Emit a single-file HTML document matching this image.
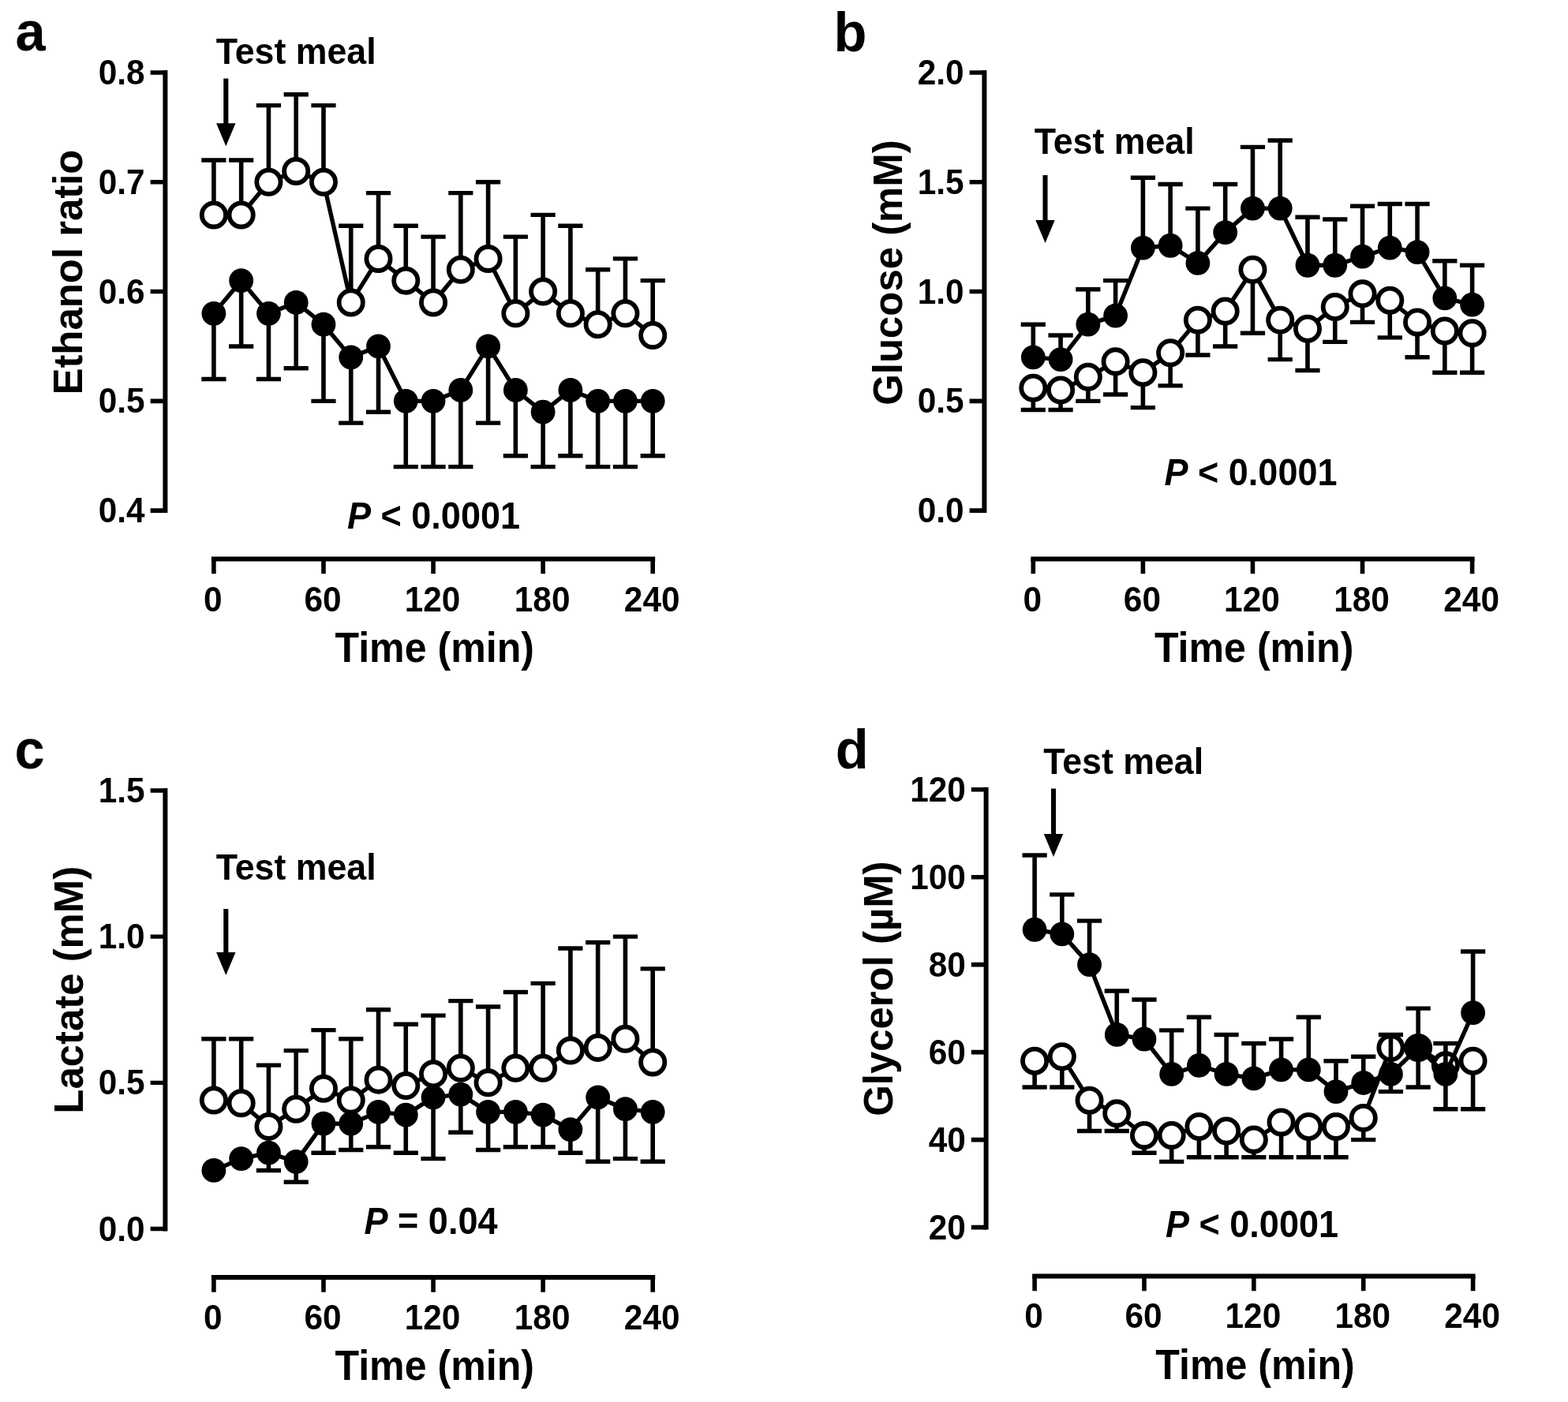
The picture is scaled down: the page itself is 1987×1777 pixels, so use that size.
<!DOCTYPE html>
<html lang="en">
<head>
<meta charset="utf-8">
<title>Figure</title>
<style>
html,body{margin:0;padding:0;background:#fff}
body{width:1987px;height:1777px;overflow:hidden}
svg{display:block;font-family:'Liberation Sans', sans-serif}
</style>
</head>
<body>
<svg width="1987" height="1777" viewBox="0 0 1987 1777">
<rect width="1987" height="1777" fill="#fff"/>
<g id="panel-a">
<g fill="none" stroke="#000"><path d="M209.4 89V650.1" stroke-width="6.0"/><path d="M190.6 92H209.4M190.6 230.78H209.4M190.6 369.55H209.4M190.6 508.33H209.4M190.6 647.1H209.4" stroke-width="5.6"/><path d="M267.9 708.5H830.2" stroke-width="6.0"/><path d="M270.9 708.5V727.3M409.98 708.5V727.3M549.05 708.5V727.3M688.12 708.5V727.3M827.2 708.5V727.3" stroke-width="5.6"/></g>
<g fill="none" stroke="#000"><polyline points="270.9,272.41 305.67,272.41 340.44,230.78 375.21,216.9 409.98,230.78 444.74,383.43 479.51,327.92 514.28,355.67 549.05,383.43 583.82,341.8 618.59,327.92 653.36,397.31 688.12,369.55 722.89,397.31 757.66,411.18 792.43,397.31 827.2,425.06" stroke-width="5.4" stroke-linejoin="round"/><path d="M270.9 272.41V203.02M305.67 272.41V203.02M340.44 230.78V133.63M375.21 216.9V119.76M409.98 230.78V133.63M444.74 383.43V286.29M479.51 327.92V244.65M514.28 355.67V286.29M549.05 383.43V300.16M583.82 341.8V244.65M618.59 327.92V230.78M653.36 397.31V300.16M688.12 369.55V272.41M722.89 397.31V286.29M757.66 411.18V341.8M792.43 397.31V327.92M827.2 425.06V355.67" stroke-width="5.6"/><path d="M255.3 203.02h31.2M290.07 203.02h31.2M324.84 133.63h31.2M359.61 119.76h31.2M394.38 133.63h31.2M429.14 286.29h31.2M463.91 244.65h31.2M498.68 286.29h31.2M533.45 300.16h31.2M568.22 244.65h31.2M602.99 230.78h31.2M637.76 300.16h31.2M672.52 272.41h31.2M707.29 286.29h31.2M742.06 341.8h31.2M776.83 327.92h31.2M811.6 355.67h31.2" stroke-width="5.4"/></g>
<g fill="#fff" stroke="#000" stroke-width="5.8"><circle cx="270.9" cy="272.41" r="15.1"/><circle cx="305.67" cy="272.41" r="15.1"/><circle cx="340.44" cy="230.78" r="15.1"/><circle cx="375.21" cy="216.9" r="15.1"/><circle cx="409.98" cy="230.78" r="15.1"/><circle cx="444.74" cy="383.43" r="15.1"/><circle cx="479.51" cy="327.92" r="15.1"/><circle cx="514.28" cy="355.67" r="15.1"/><circle cx="549.05" cy="383.43" r="15.1"/><circle cx="583.82" cy="341.8" r="15.1"/><circle cx="618.59" cy="327.92" r="15.1"/><circle cx="653.36" cy="397.31" r="15.1"/><circle cx="688.12" cy="369.55" r="15.1"/><circle cx="722.89" cy="397.31" r="15.1"/><circle cx="757.66" cy="411.18" r="15.1"/><circle cx="792.43" cy="397.31" r="15.1"/><circle cx="827.2" cy="425.06" r="15.1"/></g>
<g fill="none" stroke="#000"><polyline points="270.9,397.31 305.67,355.67 340.44,397.31 375.21,383.43 409.98,411.18 444.74,452.82 479.51,438.94 514.28,508.33 549.05,508.33 583.82,494.45 618.59,438.94 653.36,494.45 688.12,522.2 722.89,494.45 757.66,508.33 792.43,508.33 827.2,508.33" stroke-width="5.4" stroke-linejoin="round"/><path d="M270.9 397.31V480.57M305.67 355.67V438.94M340.44 397.31V480.57M375.21 383.43V466.69M409.98 411.18V508.33M444.74 452.82V536.08M479.51 438.94V522.2M514.28 508.33V591.59M549.05 508.33V591.59M583.82 494.45V591.59M618.59 438.94V536.08M653.36 494.45V577.71M688.12 522.2V591.59M722.89 494.45V577.71M757.66 508.33V591.59M792.43 508.33V591.59M827.2 508.33V577.71" stroke-width="5.6"/><path d="M255.3 480.57h31.2M290.07 438.94h31.2M324.84 480.57h31.2M359.61 466.69h31.2M394.38 508.33h31.2M429.14 536.08h31.2M463.91 522.2h31.2M498.68 591.59h31.2M533.45 591.59h31.2M568.22 591.59h31.2M602.99 536.08h31.2M637.76 577.71h31.2M672.52 591.59h31.2M707.29 577.71h31.2M742.06 591.59h31.2M776.83 591.59h31.2M811.6 577.71h31.2" stroke-width="5.4"/></g>
<g fill="#000"><circle cx="270.9" cy="397.31" r="15.4"/><circle cx="305.67" cy="355.67" r="15.4"/><circle cx="340.44" cy="397.31" r="15.4"/><circle cx="375.21" cy="383.43" r="15.4"/><circle cx="409.98" cy="411.18" r="15.4"/><circle cx="444.74" cy="452.82" r="15.4"/><circle cx="479.51" cy="438.94" r="15.4"/><circle cx="514.28" cy="508.33" r="15.4"/><circle cx="549.05" cy="508.33" r="15.4"/><circle cx="583.82" cy="494.45" r="15.4"/><circle cx="618.59" cy="438.94" r="15.4"/><circle cx="653.36" cy="494.45" r="15.4"/><circle cx="688.12" cy="522.2" r="15.4"/><circle cx="722.89" cy="494.45" r="15.4"/><circle cx="757.66" cy="508.33" r="15.4"/><circle cx="792.43" cy="508.33" r="15.4"/><circle cx="827.2" cy="508.33" r="15.4"/></g>
<path d="M286.3 99.5V160.2" stroke="#000" stroke-width="6.1" fill="none"/><path d="M274.1 156.2H298.5L286.3 185.2Z" fill="#000"/>
<g fill="#000" font-weight="bold"><text transform="translate(183.6 107.1) scale(0.967 1)" text-anchor="end" font-size="43.8">0.8</text><text transform="translate(183.6 245.88) scale(0.967 1)" text-anchor="end" font-size="43.8">0.7</text><text transform="translate(183.6 384.65) scale(0.967 1)" text-anchor="end" font-size="43.8">0.6</text><text transform="translate(183.6 523.43) scale(0.967 1)" text-anchor="end" font-size="43.8">0.5</text><text transform="translate(183.6 662.2) scale(0.967 1)" text-anchor="end" font-size="43.8">0.4</text><text transform="translate(269.9 774.5) scale(0.967 1)" text-anchor="middle" font-size="43.8">0</text><text transform="translate(408.98 774.5) scale(0.967 1)" text-anchor="middle" font-size="43.8">60</text><text transform="translate(548.05 774.5) scale(0.967 1)" text-anchor="middle" font-size="43.8">120</text><text transform="translate(687.12 774.5) scale(0.967 1)" text-anchor="middle" font-size="43.8">180</text><text transform="translate(826.2 774.5) scale(0.967 1)" text-anchor="middle" font-size="43.8">240</text><text transform="translate(550.75 838.9) scale(0.946 1)" text-anchor="middle" font-size="53">Time (min)</text><text transform="translate(104 345.05) rotate(-90) scale(0.979 1)" text-anchor="middle" font-size="52">Ethanol ratio</text><text transform="translate(19.5 63.5) scale(0.98 1)" font-size="70">a</text><text transform="translate(273.8 80.6) scale(0.982 1)" font-size="45.5">Test meal</text><text transform="translate(549.5 670.1) scale(0.946 1)" text-anchor="middle" font-size="47.6"><tspan font-style="italic">P</tspan> &lt; 0.0001</text></g>
</g>
<g id="panel-b">
<g fill="none" stroke="#000"><path d="M1247.4 89V650.1" stroke-width="6.0"/><path d="M1228.6 92H1247.4M1228.6 230.78H1247.4M1228.6 369.55H1247.4M1228.6 508.33H1247.4M1228.6 647.1H1247.4" stroke-width="5.6"/><path d="M1306.3 708.5H1868.6" stroke-width="6.0"/><path d="M1309.3 708.5V727.3M1448.38 708.5V727.3M1587.45 708.5V727.3M1726.52 708.5V727.3M1865.6 708.5V727.3" stroke-width="5.6"/></g>
<g fill="none" stroke="#000"><polyline points="1309.3,491.67 1344.07,494.45 1378.84,477.79 1413.61,458.37 1448.38,472.24 1483.14,447.26 1517.91,405.63 1552.68,394.53 1587.45,341.79 1622.22,405.63 1656.99,416.73 1691.76,388.98 1726.52,372.33 1761.29,380.65 1796.06,408.41 1830.83,419.51 1865.6,422.28" stroke-width="5.4" stroke-linejoin="round"/><path d="M1309.3 491.67V519.43M1344.07 494.45V519.43M1378.84 477.79V508.33M1413.61 458.37V500M1448.38 472.24V516.65M1483.14 447.26V488.9M1517.91 405.63V450.04M1552.68 394.53V438.94M1587.45 341.79V422.28M1622.22 405.63V455.59M1656.99 416.73V469.47M1691.76 388.98V433.39M1726.52 372.33V408.41M1761.29 380.65V427.84M1796.06 408.41V452.82M1830.83 419.51V472.24M1865.6 422.28V472.24" stroke-width="5.6"/><path d="M1293.7 519.43h31.2M1328.47 519.43h31.2M1363.24 508.33h31.2M1398.01 500h31.2M1432.78 516.65h31.2M1467.54 488.9h31.2M1502.31 450.04h31.2M1537.08 438.94h31.2M1571.85 422.28h31.2M1606.62 455.59h31.2M1641.39 469.47h31.2M1676.16 433.39h31.2M1710.92 408.41h31.2M1745.69 427.84h31.2M1780.46 452.82h31.2M1815.23 472.24h31.2M1850 472.24h31.2" stroke-width="5.4"/></g>
<g fill="#fff" stroke="#000" stroke-width="5.8"><circle cx="1309.3" cy="491.67" r="15.1"/><circle cx="1344.07" cy="494.45" r="15.1"/><circle cx="1378.84" cy="477.79" r="15.1"/><circle cx="1413.61" cy="458.37" r="15.1"/><circle cx="1448.38" cy="472.24" r="15.1"/><circle cx="1483.14" cy="447.26" r="15.1"/><circle cx="1517.91" cy="405.63" r="15.1"/><circle cx="1552.68" cy="394.53" r="15.1"/><circle cx="1587.45" cy="341.79" r="15.1"/><circle cx="1622.22" cy="405.63" r="15.1"/><circle cx="1656.99" cy="416.73" r="15.1"/><circle cx="1691.76" cy="388.98" r="15.1"/><circle cx="1726.52" cy="372.33" r="15.1"/><circle cx="1761.29" cy="380.65" r="15.1"/><circle cx="1796.06" cy="408.41" r="15.1"/><circle cx="1830.83" cy="419.51" r="15.1"/><circle cx="1865.6" cy="422.28" r="15.1"/></g>
<g fill="none" stroke="#000"><polyline points="1309.3,452.82 1344.07,455.59 1378.84,411.18 1413.61,400.08 1448.38,314.04 1483.14,311.26 1517.91,333.47 1552.68,294.61 1587.45,264.08 1622.22,264.08 1656.99,336.24 1691.76,336.24 1726.52,325.14 1761.29,314.04 1796.06,319.59 1830.83,377.88 1865.6,386.2" stroke-width="5.4" stroke-linejoin="round"/><path d="M1309.3 452.82V411.18M1344.07 455.59V425.06M1378.84 411.18V366.77M1413.61 400.08V355.67M1448.38 314.04V225.22M1483.14 311.26V233.55M1517.91 333.47V264.08M1552.68 294.61V233.55M1587.45 264.08V186.37M1622.22 264.08V178.04M1656.99 336.24V275.18M1691.76 336.24V277.96M1726.52 325.14V261.31M1761.29 314.04V258.53M1796.06 319.59V258.53M1830.83 377.88V330.69M1865.6 386.2V336.24" stroke-width="5.6"/><path d="M1293.7 411.18h31.2M1328.47 425.06h31.2M1363.24 366.77h31.2M1398.01 355.67h31.2M1432.78 225.22h31.2M1467.54 233.55h31.2M1502.31 264.08h31.2M1537.08 233.55h31.2M1571.85 186.37h31.2M1606.62 178.04h31.2M1641.39 275.18h31.2M1676.16 277.96h31.2M1710.92 261.31h31.2M1745.69 258.53h31.2M1780.46 258.53h31.2M1815.23 330.69h31.2M1850 336.24h31.2" stroke-width="5.4"/></g>
<g fill="#000"><circle cx="1309.3" cy="452.82" r="15.4"/><circle cx="1344.07" cy="455.59" r="15.4"/><circle cx="1378.84" cy="411.18" r="15.4"/><circle cx="1413.61" cy="400.08" r="15.4"/><circle cx="1448.38" cy="314.04" r="15.4"/><circle cx="1483.14" cy="311.26" r="15.4"/><circle cx="1517.91" cy="333.47" r="15.4"/><circle cx="1552.68" cy="294.61" r="15.4"/><circle cx="1587.45" cy="264.08" r="15.4"/><circle cx="1622.22" cy="264.08" r="15.4"/><circle cx="1656.99" cy="336.24" r="15.4"/><circle cx="1691.76" cy="336.24" r="15.4"/><circle cx="1726.52" cy="325.14" r="15.4"/><circle cx="1761.29" cy="314.04" r="15.4"/><circle cx="1796.06" cy="319.59" r="15.4"/><circle cx="1830.83" cy="377.88" r="15.4"/><circle cx="1865.6" cy="386.2" r="15.4"/></g>
<path d="M1324.5 222V283" stroke="#000" stroke-width="6.1" fill="none"/><path d="M1312.3 279H1336.7L1324.5 308Z" fill="#000"/>
<g fill="#000" font-weight="bold"><text transform="translate(1221.6 107.1) scale(0.967 1)" text-anchor="end" font-size="43.8">2.0</text><text transform="translate(1221.6 245.88) scale(0.967 1)" text-anchor="end" font-size="43.8">1.5</text><text transform="translate(1221.6 384.65) scale(0.967 1)" text-anchor="end" font-size="43.8">1.0</text><text transform="translate(1221.6 523.43) scale(0.967 1)" text-anchor="end" font-size="43.8">0.5</text><text transform="translate(1221.6 662.2) scale(0.967 1)" text-anchor="end" font-size="43.8">0.0</text><text transform="translate(1308.3 774.5) scale(0.967 1)" text-anchor="middle" font-size="43.8">0</text><text transform="translate(1447.38 774.5) scale(0.967 1)" text-anchor="middle" font-size="43.8">60</text><text transform="translate(1586.45 774.5) scale(0.967 1)" text-anchor="middle" font-size="43.8">120</text><text transform="translate(1725.52 774.5) scale(0.967 1)" text-anchor="middle" font-size="43.8">180</text><text transform="translate(1864.6 774.5) scale(0.967 1)" text-anchor="middle" font-size="43.8">240</text><text transform="translate(1589.15 838.9) scale(0.946 1)" text-anchor="middle" font-size="53">Time (min)</text><text transform="translate(1143 345.55) rotate(-90) scale(0.979 1)" text-anchor="middle" font-size="52">Glucose (mM)</text><text transform="translate(1056.5 64.5) scale(0.98 1)" font-size="70">b</text><text transform="translate(1310.8 194.6) scale(0.982 1)" font-size="45.5">Test meal</text><text transform="translate(1585 615) scale(0.946 1)" text-anchor="middle" font-size="47.6"><tspan font-style="italic">P</tspan> &lt; 0.0001</text></g>
</g>
<g id="panel-c">
<g fill="none" stroke="#000"><path d="M209.4 999V1560.5" stroke-width="6.0"/><path d="M190.6 1002H209.4M190.6 1187.17H209.4M190.6 1372.33H209.4M190.6 1557.5H209.4" stroke-width="5.3"/><path d="M267.9 1619H830.2" stroke-width="6.0"/><path d="M270.9 1619V1637.8M409.98 1619V1637.8M549.05 1619V1637.8M688.12 1619V1637.8M827.2 1619V1637.8" stroke-width="5.6"/></g>
<g fill="none" stroke="#000"><polyline points="270.9,1394.55 305.67,1398.26 340.44,1427.88 375.21,1405.66 409.98,1379.74 444.74,1394.55 479.51,1368.63 514.28,1376.04 549.05,1361.22 583.82,1353.82 618.59,1372.33 653.36,1353.82 688.12,1353.82 722.89,1331.6 757.66,1327.89 792.43,1316.78 827.2,1346.41" stroke-width="5.4" stroke-linejoin="round"/><path d="M270.9 1394.55V1316.78M305.67 1398.26V1316.78M340.44 1427.88V1350.11M375.21 1405.66V1331.6M409.98 1379.74V1305.67M444.74 1394.55V1316.78M479.51 1368.63V1279.75M514.28 1376.04V1298.27M549.05 1361.22V1287.16M583.82 1353.82V1268.64M618.59 1372.33V1276.05M653.36 1353.82V1257.53M688.12 1353.82V1246.42M722.89 1331.6V1201.98M757.66 1327.89V1194.57M792.43 1316.78V1187.17M827.2 1346.41V1227.9" stroke-width="5.6"/><path d="M255.3 1316.78h31.2M290.07 1316.78h31.2M324.84 1350.11h31.2M359.61 1331.6h31.2M394.38 1305.67h31.2M429.14 1316.78h31.2M463.91 1279.75h31.2M498.68 1298.27h31.2M533.45 1287.16h31.2M568.22 1268.64h31.2M602.99 1276.05h31.2M637.76 1257.53h31.2M672.52 1246.42h31.2M707.29 1201.98h31.2M742.06 1194.57h31.2M776.83 1187.17h31.2M811.6 1227.9h31.2" stroke-width="5.4"/></g>
<g fill="#fff" stroke="#000" stroke-width="5.8"><circle cx="270.9" cy="1394.55" r="15.1"/><circle cx="305.67" cy="1398.26" r="15.1"/><circle cx="340.44" cy="1427.88" r="15.1"/><circle cx="375.21" cy="1405.66" r="15.1"/><circle cx="409.98" cy="1379.74" r="15.1"/><circle cx="444.74" cy="1394.55" r="15.1"/><circle cx="479.51" cy="1368.63" r="15.1"/><circle cx="514.28" cy="1376.04" r="15.1"/><circle cx="549.05" cy="1361.22" r="15.1"/><circle cx="583.82" cy="1353.82" r="15.1"/><circle cx="618.59" cy="1372.33" r="15.1"/><circle cx="653.36" cy="1353.82" r="15.1"/><circle cx="688.12" cy="1353.82" r="15.1"/><circle cx="722.89" cy="1331.6" r="15.1"/><circle cx="757.66" cy="1327.89" r="15.1"/><circle cx="792.43" cy="1316.78" r="15.1"/><circle cx="827.2" cy="1346.41" r="15.1"/></g>
<g fill="none" stroke="#000"><polyline points="270.9,1483.43 305.67,1468.62 340.44,1461.21 375.21,1472.32 409.98,1424.18 444.74,1424.18 479.51,1409.37 514.28,1413.07 549.05,1390.85 583.82,1387.15 618.59,1409.37 653.36,1409.37 688.12,1413.07 722.89,1431.59 757.66,1390.85 792.43,1405.66 827.2,1409.37" stroke-width="5.4" stroke-linejoin="round"/><path d="M340.44 1461.21V1483.43M375.21 1472.32V1498.25M409.98 1424.18V1461.21M444.74 1424.18V1457.51M479.51 1409.37V1453.81M514.28 1413.07V1461.21M549.05 1390.85V1468.62M583.82 1387.15V1435.29M618.59 1409.37V1457.51M653.36 1409.37V1453.81M688.12 1413.07V1453.81M722.89 1431.59V1461.21M757.66 1390.85V1472.32M792.43 1405.66V1468.62M827.2 1409.37V1472.32" stroke-width="5.6"/><path d="M324.84 1483.43h31.2M359.61 1498.25h31.2M394.38 1461.21h31.2M429.14 1457.51h31.2M463.91 1453.81h31.2M498.68 1461.21h31.2M533.45 1468.62h31.2M568.22 1435.29h31.2M602.99 1457.51h31.2M637.76 1453.81h31.2M672.52 1453.81h31.2M707.29 1461.21h31.2M742.06 1472.32h31.2M776.83 1468.62h31.2M811.6 1472.32h31.2" stroke-width="5.4"/></g>
<g fill="#000"><circle cx="270.9" cy="1483.43" r="15.4"/><circle cx="305.67" cy="1468.62" r="15.4"/><circle cx="340.44" cy="1461.21" r="15.4"/><circle cx="375.21" cy="1472.32" r="15.4"/><circle cx="409.98" cy="1424.18" r="15.4"/><circle cx="444.74" cy="1424.18" r="15.4"/><circle cx="479.51" cy="1409.37" r="15.4"/><circle cx="514.28" cy="1413.07" r="15.4"/><circle cx="549.05" cy="1390.85" r="15.4"/><circle cx="583.82" cy="1387.15" r="15.4"/><circle cx="618.59" cy="1409.37" r="15.4"/><circle cx="653.36" cy="1409.37" r="15.4"/><circle cx="688.12" cy="1413.07" r="15.4"/><circle cx="722.89" cy="1431.59" r="15.4"/><circle cx="757.66" cy="1390.85" r="15.4"/><circle cx="792.43" cy="1405.66" r="15.4"/><circle cx="827.2" cy="1409.37" r="15.4"/></g>
<path d="M286.3 1152V1211" stroke="#000" stroke-width="6.1" fill="none"/><path d="M274.1 1207H298.5L286.3 1236Z" fill="#000"/>
<g fill="#000" font-weight="bold"><text transform="translate(183.6 1017.1) scale(0.967 1)" text-anchor="end" font-size="43.8">1.5</text><text transform="translate(183.6 1202.27) scale(0.967 1)" text-anchor="end" font-size="43.8">1.0</text><text transform="translate(183.6 1387.43) scale(0.967 1)" text-anchor="end" font-size="43.8">0.5</text><text transform="translate(183.6 1572.6) scale(0.967 1)" text-anchor="end" font-size="43.8">0.0</text><text transform="translate(269.9 1685) scale(0.967 1)" text-anchor="middle" font-size="43.8">0</text><text transform="translate(408.98 1685) scale(0.967 1)" text-anchor="middle" font-size="43.8">60</text><text transform="translate(548.05 1685) scale(0.967 1)" text-anchor="middle" font-size="43.8">120</text><text transform="translate(687.12 1685) scale(0.967 1)" text-anchor="middle" font-size="43.8">180</text><text transform="translate(826.2 1685) scale(0.967 1)" text-anchor="middle" font-size="43.8">240</text><text transform="translate(550.75 1749.4) scale(0.946 1)" text-anchor="middle" font-size="53">Time (min)</text><text transform="translate(104.6 1254.75) rotate(-90) scale(0.979 1)" text-anchor="middle" font-size="52">Lactate (mM)</text><text transform="translate(18.5 973.5) scale(0.98 1)" font-size="70">c</text><text transform="translate(273.8 1114.6) scale(0.982 1)" font-size="45.5">Test meal</text><text transform="translate(546 1564) scale(0.946 1)" text-anchor="middle" font-size="47.6"><tspan font-style="italic">P</tspan> = 0.04</text></g>
</g>
<g id="panel-d">
<g fill="none" stroke="#000"><path d="M1249.6 997.7V1558.6" stroke-width="6.0"/><path d="M1230.8 1000.7H1249.6M1230.8 1111.68H1249.6M1230.8 1222.66H1249.6M1230.8 1333.64H1249.6M1230.8 1444.62H1249.6M1230.8 1555.6H1249.6" stroke-width="5.6"/><path d="M1308.1 1617.4H1869.6" stroke-width="6.0"/><path d="M1311.1 1617.4V1636.2M1449.97 1617.4V1636.2M1588.85 1617.4V1636.2M1727.72 1617.4V1636.2M1866.6 1617.4V1636.2" stroke-width="5.6"/></g>
<g fill="none" stroke="#000"><polyline points="1311.1,1344.74 1345.82,1339.19 1380.54,1394.68 1415.26,1411.33 1449.97,1439.07 1484.69,1439.07 1519.41,1427.97 1554.13,1433.52 1588.85,1444.62 1623.57,1422.42 1658.29,1427.97 1693.01,1427.97 1727.72,1416.88 1762.44,1328.09 1797.16,1328.09 1831.88,1350.29 1866.6,1344.74" stroke-width="5.4" stroke-linejoin="round"/><path d="M1311.1 1344.74V1378.03M1345.82 1339.19V1378.03M1380.54 1394.68V1433.52M1415.26 1411.33V1433.52M1449.97 1439.07V1461.27M1484.69 1439.07V1472.36M1519.41 1427.97V1466.82M1554.13 1433.52V1466.82M1588.85 1444.62V1466.82M1623.57 1422.42V1466.82M1658.29 1427.97V1466.82M1693.01 1427.97V1466.82M1727.72 1416.88V1444.62M1762.44 1328.09V1383.58M1797.16 1328.09V1378.03M1831.88 1350.29V1405.78M1866.6 1344.74V1405.78" stroke-width="5.6"/><path d="M1295.5 1378.03h31.2M1330.22 1378.03h31.2M1364.94 1433.52h31.2M1399.66 1433.52h31.2M1434.38 1461.27h31.2M1469.09 1472.36h31.2M1503.81 1466.82h31.2M1538.53 1466.82h31.2M1573.25 1466.82h31.2M1607.97 1466.82h31.2M1642.69 1466.82h31.2M1677.41 1466.82h31.2M1712.12 1444.62h31.2M1746.84 1383.58h31.2M1781.56 1378.03h31.2M1816.28 1405.78h31.2M1851 1405.78h31.2" stroke-width="5.4"/></g>
<g fill="#fff" stroke="#000" stroke-width="5.8"><circle cx="1311.1" cy="1344.74" r="15.1"/><circle cx="1345.82" cy="1339.19" r="15.1"/><circle cx="1380.54" cy="1394.68" r="15.1"/><circle cx="1415.26" cy="1411.33" r="15.1"/><circle cx="1449.97" cy="1439.07" r="15.1"/><circle cx="1484.69" cy="1439.07" r="15.1"/><circle cx="1519.41" cy="1427.97" r="15.1"/><circle cx="1554.13" cy="1433.52" r="15.1"/><circle cx="1588.85" cy="1444.62" r="15.1"/><circle cx="1623.57" cy="1422.42" r="15.1"/><circle cx="1658.29" cy="1427.97" r="15.1"/><circle cx="1693.01" cy="1427.97" r="15.1"/><circle cx="1727.72" cy="1416.88" r="15.1"/><circle cx="1762.44" cy="1328.09" r="15.1"/><circle cx="1797.16" cy="1328.09" r="15.1"/><circle cx="1831.88" cy="1350.29" r="15.1"/><circle cx="1866.6" cy="1344.74" r="15.1"/></g>
<g fill="none" stroke="#000"><polyline points="1311.1,1178.27 1345.82,1183.82 1380.54,1222.66 1415.26,1311.44 1449.97,1316.99 1484.69,1361.38 1519.41,1350.29 1554.13,1361.38 1588.85,1366.93 1623.57,1355.84 1658.29,1355.84 1693.01,1383.58 1727.72,1372.48 1762.44,1361.38 1797.16,1328.09 1831.88,1361.38 1866.6,1283.7" stroke-width="5.4" stroke-linejoin="round"/><path d="M1311.1 1178.27V1083.93M1345.82 1183.82V1133.88M1380.54 1222.66V1167.17M1415.26 1311.44V1255.95M1449.97 1316.99V1267.05M1484.69 1361.38V1305.89M1519.41 1350.29V1289.25M1554.13 1361.38V1311.44M1588.85 1366.93V1322.54M1623.57 1355.84V1316.99M1658.29 1355.84V1289.25M1693.01 1383.58V1344.74M1727.72 1372.48V1339.19M1762.44 1361.38V1311.44M1797.16 1328.09V1278.15M1831.88 1361.38V1322.54M1866.6 1283.7V1206.01" stroke-width="5.6"/><path d="M1295.5 1083.93h31.2M1330.22 1133.88h31.2M1364.94 1167.17h31.2M1399.66 1255.95h31.2M1434.38 1267.05h31.2M1469.09 1305.89h31.2M1503.81 1289.25h31.2M1538.53 1311.44h31.2M1573.25 1322.54h31.2M1607.97 1316.99h31.2M1642.69 1289.25h31.2M1677.41 1344.74h31.2M1712.12 1339.19h31.2M1746.84 1311.44h31.2M1781.56 1278.15h31.2M1816.28 1322.54h31.2M1851 1206.01h31.2" stroke-width="5.4"/></g>
<g fill="#000"><circle cx="1311.1" cy="1178.27" r="15.4"/><circle cx="1345.82" cy="1183.82" r="15.4"/><circle cx="1380.54" cy="1222.66" r="15.4"/><circle cx="1415.26" cy="1311.44" r="15.4"/><circle cx="1449.97" cy="1316.99" r="15.4"/><circle cx="1484.69" cy="1361.38" r="15.4"/><circle cx="1519.41" cy="1350.29" r="15.4"/><circle cx="1554.13" cy="1361.38" r="15.4"/><circle cx="1588.85" cy="1366.93" r="15.4"/><circle cx="1623.57" cy="1355.84" r="15.4"/><circle cx="1658.29" cy="1355.84" r="15.4"/><circle cx="1693.01" cy="1383.58" r="15.4"/><circle cx="1727.72" cy="1372.48" r="15.4"/><circle cx="1762.44" cy="1361.38" r="15.4"/><circle cx="1797.16" cy="1328.09" r="15.4"/><circle cx="1831.88" cy="1361.38" r="15.4"/><circle cx="1866.6" cy="1283.7" r="15.4"/></g>
<path d="M1335 999.5V1061" stroke="#000" stroke-width="6.1" fill="none"/><path d="M1322.8 1057H1347.2L1335 1086Z" fill="#000"/>
<g fill="#000" font-weight="bold"><text transform="translate(1223.8 1015.8) scale(0.967 1)" text-anchor="end" font-size="43.8">120</text><text transform="translate(1223.8 1126.78) scale(0.967 1)" text-anchor="end" font-size="43.8">100</text><text transform="translate(1223.8 1237.76) scale(0.967 1)" text-anchor="end" font-size="43.8">80</text><text transform="translate(1223.8 1348.74) scale(0.967 1)" text-anchor="end" font-size="43.8">60</text><text transform="translate(1223.8 1459.72) scale(0.967 1)" text-anchor="end" font-size="43.8">40</text><text transform="translate(1223.8 1570.7) scale(0.967 1)" text-anchor="end" font-size="43.8">20</text><text transform="translate(1310.1 1683.4) scale(0.967 1)" text-anchor="middle" font-size="43.8">0</text><text transform="translate(1448.97 1683.4) scale(0.967 1)" text-anchor="middle" font-size="43.8">60</text><text transform="translate(1587.85 1683.4) scale(0.967 1)" text-anchor="middle" font-size="43.8">120</text><text transform="translate(1726.72 1683.4) scale(0.967 1)" text-anchor="middle" font-size="43.8">180</text><text transform="translate(1865.6 1683.4) scale(0.967 1)" text-anchor="middle" font-size="43.8">240</text><text transform="translate(1590.55 1747.8) scale(0.946 1)" text-anchor="middle" font-size="53">Time (min)</text><text transform="translate(1131 1253.15) rotate(-90) scale(0.979 1)" text-anchor="middle" font-size="52">Glycerol (µM)</text><text transform="translate(1058.8 974) scale(0.98 1)" font-size="70">d</text><text transform="translate(1322.3 980.6) scale(0.982 1)" font-size="45.5">Test meal</text><text transform="translate(1586.5 1567.5) scale(0.946 1)" text-anchor="middle" font-size="47.6"><tspan font-style="italic">P</tspan> &lt; 0.0001</text></g>
</g>
</svg>
</body>
</html>
